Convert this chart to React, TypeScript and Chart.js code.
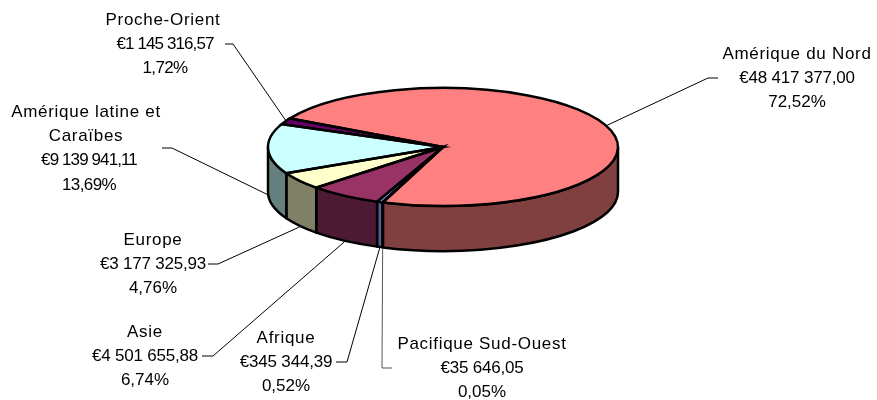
import React, { useEffect, useRef } from "react";
import { Chart, registerables } from "chart.js";

Chart.register(...registerables);

const categories = ["Amérique du Nord", "Pacifique Sud-Ouest", "Afrique", "Asie", "Europe", "Amérique latine et Caraïbes", "Proche-Orient"];
const values = [48417377.0, 35646.05, 345344.39, 4501655.88, 3177325.93, 9139941.11, 1145316.57];
const valueLabels = ["€48 417 377,00", "€35 646,05", "€345 344,39", "€4 501 655,88", "€3 177 325,93", "€9 139 941,11", "€1 145 316,57"];
const percentLabels = ["72,52%", "0,05%", "0,52%", "6,74%", "4,76%", "13,69%", "1,72%"];
const topColors = ["#FF8080", "#3333AA", "#9999FF", "#993366", "#FFFFCC", "#CCFFFF", "#660066"];
const sideColors = ["#804040", "#1A1A55", "#5C5C99", "#4D1A33", "#808066", "#668080", "#330033"];

// label layout: text centre, first line y, elbow [x0, y, x1]
const nameLines = [["Amérique du Nord"], ["Pacifique Sud-Ouest"], ["Afrique"], ["Asie"], ["Europe"], ["Amérique latine et", "Caraïbes"], ["Proche-Orient"]];
const labelX = [797, 482, 286, 145, 153, 86, 163];
const labelY = [54, 344, 338, 332, 240, 112, 20];
const elbows = [[718, 78, 708], [392, 368, 382], [336, 362, 347], [202, 356, 213], [208, 264, 218], [162, 148, 172], [225, 44, 233]];
// number lines: horizontal offset and letter spacing, per label
const numberShift = [0, 0, 0, 0, 0, 3, 2];
const numberSpacing = [-0.2, -0.2, -0.2, -0.2, -0.2, -0.9, -0.9];
const percentSpacing = [0, 0, 0, 0, 0, -0.6, -0.6];

const SQUASH = 0.337;
const DEPTH = 45;
const FONT = '17px "Liberation Sans", Arial, sans-serif';

const pie3d = {
  id: "pie3d",
  beforeDatasetsDraw(chart: any) {
    const { ctx } = chart;
    const arcs = chart.getDatasetMeta(0).data;
    const { x: cx, y: cy, outerRadius: R } = arcs[0];
    const ry = R * SQUASH;
    ctx.save();
    ctx.lineWidth = 2.5;
    ctx.lineJoin = "round";
    ctx.strokeStyle = "#000";
    arcs.forEach((arc: any, i: number) => {
      const a0 = Math.max(arc.startAngle, 0);
      const a1 = Math.min(arc.endAngle, Math.PI);
      if (a1 <= a0) return;
      ctx.beginPath();
      ctx.ellipse(cx, cy, R, ry, 0, a0, a1);
      ctx.lineTo(cx + R * Math.cos(a1), cy + ry * Math.sin(a1) + DEPTH);
      ctx.ellipse(cx, cy + DEPTH, R, ry, 0, a1, a0, true);
      ctx.closePath();
      ctx.fillStyle = sideColors[i];
      ctx.fill();
      ctx.stroke();
    });
    ctx.restore();
    ctx.save();
    ctx.translate(cx, cy);
    ctx.scale(1, SQUASH);
    ctx.translate(-cx, -cy);
  },
  afterDatasetsDraw(chart: any) {
    const { ctx } = chart;
    ctx.restore();
    const arcs = chart.getDatasetMeta(0).data;
    const { x: cx, y: cy, outerRadius: R } = arcs[0];
    const ry = R * SQUASH;
    ctx.save();
    ctx.lineWidth = 2.5;
    ctx.lineJoin = "miter";
    ctx.strokeStyle = "#000";
    arcs.forEach((arc: any) => {
      ctx.beginPath();
      ctx.moveTo(cx, cy);
      ctx.ellipse(cx, cy, R, ry, 0, arc.startAngle, arc.endAngle);
      ctx.closePath();
      ctx.stroke();
    });
    // leader lines
    ctx.lineWidth = 1;
    arcs.forEach((arc: any, i: number) => {
      const mid = (arc.startAngle + arc.endAngle) / 2;
      const front = Math.sin(mid) > 0;
      const px = cx + R * Math.cos(mid);
      const py = cy + ry * Math.sin(mid) + (front ? DEPTH + 1 : -1);
      const [x0, y, x1] = elbows[i];
      ctx.strokeStyle = i === 1 ? "#555" : "#000";
      ctx.beginPath();
      ctx.moveTo(x0, y);
      ctx.lineTo(x1, y);
      ctx.lineTo(px, py);
      ctx.stroke();
    });
    // labels
    ctx.fillStyle = "#000";
    ctx.font = FONT;
    ctx.textAlign = "center";
    ctx.textBaseline = "middle";
    categories.forEach((_, i) => {
      const names = nameLines[i];
      const lines = [...names, valueLabels[i], percentLabels[i]];
      lines.forEach((t, j) => {
        const isName = j < names.length;
        const isValue = j === names.length;
        ctx.letterSpacing = isName ? "0.7px" : isValue ? `${numberSpacing[i]}px` : `${percentSpacing[i]}px`;
        ctx.fillText(t, labelX[i] + (isName ? 0 : numberShift[i]), labelY[i] + j * 24.4);
      });
    });
    ctx.restore();
  },
};

export default function App() {
  const ref = useRef<HTMLCanvasElement>(null);
  useEffect(() => {
    const chart = new Chart(ref.current as HTMLCanvasElement, {
      type: "pie",
      data: {
        labels: categories,
        datasets: [{ data: values, backgroundColor: topColors, borderWidth: 0 }],
      },
      options: {
        responsive: false,
        animation: false,
        events: [],
        rotation: -61,
        radius: 175,
        layout: { padding: { left: 9, bottom: 106 } },
        plugins: { legend: { display: false }, tooltip: { enabled: false } },
      },
      plugins: [pie3d],
    } as any);
    return () => chart.destroy();
  }, []);
  return (
    <div style={{ position: "absolute", left: 0, top: 0, width: 877, height: 400, background: "#fff" }}>
      <canvas ref={ref} width={877} height={400} style={{ display: "block" }} />
    </div>
  );
}
